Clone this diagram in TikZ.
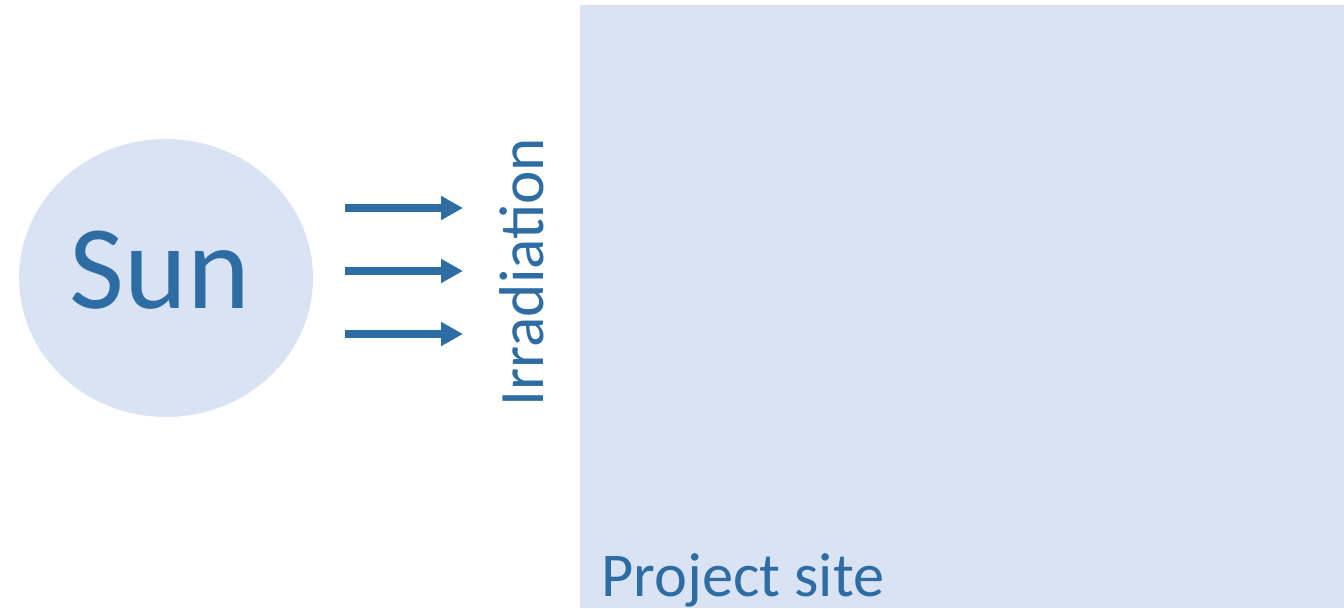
\documentclass[tikz,border=0pt]{standalone}
\usepackage{fontspec}
\setmainfont{Carlito}
\usetikzlibrary{shapes.geometric, arrows.meta, positioning}
\definecolor{skyfill}{RGB}{218, 227, 243}
\definecolor{rayblue}{RGB}{46, 109, 164}

\begin{document}
\begin{tikzpicture}[
    x=0.02cm, y=-0.02cm,
    sunbody/.style={ellipse, fill=skyfill, minimum width=5.88cm, minimum height=5.56cm, inner sep=0pt},
    label/.style={text=rayblue, inner sep=0pt},
    ray/.style={-{Triangle[length=12.5pt, width=13pt]}, line width=4pt, rayblue}
]
    \useasboundingbox (0,0) rectangle (1344,608);

    % Site and sun
    \fill[skyfill] (580,5) rectangle (1344,608);
    \node[sunbody] (sun) at (166,278) {};
    \node[label, font=\fontsize{68}{68}\selectfont, anchor=base] (sunname) at (160,308) {Sun};

    % Rays
    \foreach \y/\n in {208/1, 271/2, 334/3} {
        \coordinate (src\n) at (345,\y);
        \coordinate (dst\n) at (463,\y);
        \draw[ray] (src\n) -- (dst\n);
    }

    % Labels
    \node[label, font=\fontsize{36}{36}\selectfont, rotate=90, anchor=base] (irr) at (543,272) {Irradiation};
    \node[label, font=\fontsize{35.5}{36}\selectfont, anchor=base west] (site) at (601,596) {Project site};
\end{tikzpicture}
\end{document}
